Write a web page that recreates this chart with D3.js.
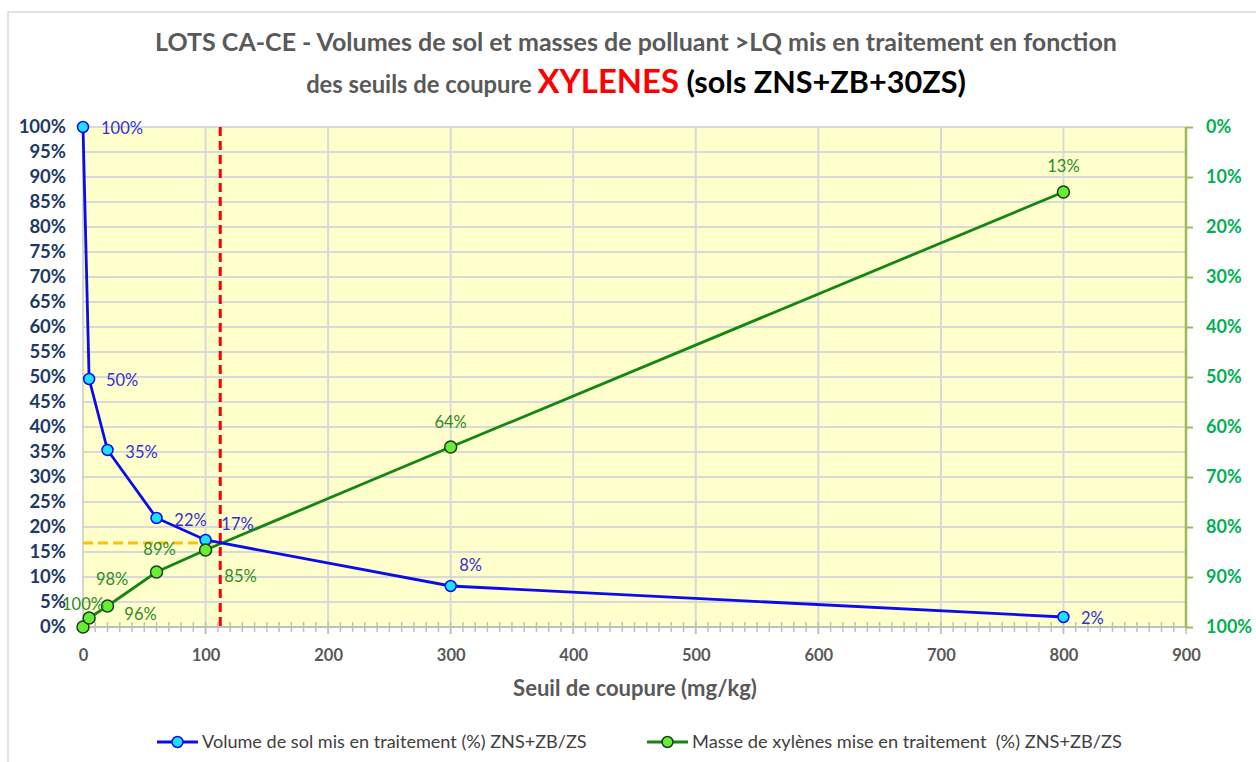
<!DOCTYPE html>
<html>
<head>
<meta charset="utf-8">
<script src="https://cdn.jsdelivr.net/npm/d3@7"></script>
<style>
  body { margin: 0; background: #fff; }
  svg { display: block; font-family: Lato, "Open Sans", sans-serif; }
</style>
</head>
<body>
<div id="chart"></div>
<script>
// seuils de coupure (mg/kg)
const seuils = [0, 5, 20, 60, 100, 300, 800];
// volume de sol mis en traitement (%), axe gauche
const volume = [100, 49.6, 35.4, 21.8, 17.4, 8.2, 2.0];
// masse de xylenes mise en traitement (%), axe droit (inverse)
const masse = [100, 98.2, 95.8, 89.0, 84.6, 64.0, 13.0];
const xTicks = [0, 100, 200, 300, 400, 500, 600, 700, 800, 900];
const leftTicks = d3.range(0, 101, 5);
const rightTicks = d3.range(0, 101, 10);
// seuil retenu
const seuilRetenu = 112;
const volumeRetenu = 16.8;

// label placements (dx, dy from the point), like the excel drag positions
const volOffsets = [[39, 1], [33, 1], [34, 2], [34, 2], [32, -16], [20, -21], [29, 1]];
const masOffsets = [[0, -23], [23, -39], [33, 8], [3, -23], [35, 26], [0, -25], [0, -26]];

const width = 1256, height = 762;
const pLeft = 83, pRight = 1186, pTop = 127, pBottom = 627;

const svg = d3.select("#chart").append("svg")
  .attr("width", width)
  .attr("height", height);

// outer frame
svg.append("rect")
  .attr("x", 8).attr("y", 12)
  .attr("width", 1270).attr("height", 770)
  .attr("fill", "#fff")
  .attr("stroke", "#d9d9d9")
  .attr("stroke-width", 1.5);

const x = d3.scaleLinear().domain([0, 900]).range([pLeft, pRight]);
const yL = d3.scaleLinear().domain([0, 100]).range([pBottom, pTop]);
const yR = d3.scaleLinear().domain([0, 100]).range([pTop, pBottom]);

// fit a text to a target width by scaling its font size
function fit(sel, target) {
  const node = sel.node();
  const fs = parseFloat(sel.attr("font-size"));
  const w = node.getComputedTextLength();
  const k = target / w;
  sel.attr("font-size", fs * k);
  sel.selectAll("tspan").each(function() {
    const t = d3.select(this);
    if (t.attr("font-size")) t.attr("font-size", parseFloat(t.attr("font-size")) * k);
  });
}

// plot area
svg.append("rect")
  .attr("x", pLeft).attr("y", pTop)
  .attr("width", pRight - pLeft).attr("height", pBottom - pTop)
  .attr("fill", "#ffffcc");

// horizontal grid
svg.append("g")
  .selectAll("line")
  .data(leftTicks.filter(d => d > 0))
  .join("line")
  .attr("x1", pLeft).attr("x2", pRight)
  .attr("y1", d => yL(d)).attr("y2", d => yL(d))
  .attr("stroke", "#d9d9d9")
  .attr("stroke-width", 2);

// vertical grid + major ticks
svg.append("g")
  .selectAll("line")
  .data(xTicks.filter(d => d > 0 && d < 900))
  .join("line")
  .attr("x1", d => x(d)).attr("x2", d => x(d))
  .attr("y1", pTop).attr("y2", pBottom + 7)
  .attr("stroke", "#d9d9d9")
  .attr("stroke-width", 2);

// left edge
svg.append("line")
  .attr("x1", pLeft).attr("x2", pLeft)
  .attr("y1", pTop).attr("y2", pBottom)
  .attr("stroke", "#c8c8c8").attr("stroke-width", 1.5);

// x axis line + minor cross ticks
svg.append("line")
  .attr("x1", pLeft).attr("x2", pRight)
  .attr("y1", pBottom).attr("y2", pBottom)
  .attr("stroke", "#bfbfbf").attr("stroke-width", 2);

svg.append("g")
  .selectAll("line")
  .data(d3.range(0, 901, 10))
  .join("line")
  .attr("x1", d => x(d)).attr("x2", d => x(d))
  .attr("y1", pBottom - 5).attr("y2", d => d % 100 === 0 ? pBottom + 7 : pBottom + 5)
  .attr("stroke", "#bfbfbf")
  .attr("stroke-width", 1.5);

// x axis labels
const xAxis = d3.axisBottom(x).tickValues(xTicks).tickSize(0).tickPadding(22);
const gx = svg.append("g").attr("transform", `translate(0,${pBottom})`).call(xAxis);
gx.select(".domain").remove();
gx.selectAll("text")
  .attr("font-size", 16.5)
  .attr("font-weight", "bold")
  .attr("fill", "#595959")
  .attr("font-family", "Lato, sans-serif");

// left axis
const yAxisL = d3.axisLeft(yL).tickValues(leftTicks).tickFormat(d => d + "%").tickSize(0).tickPadding(17);
const gl = svg.append("g").attr("transform", `translate(${pLeft},0)`).call(yAxisL);
gl.select(".domain").remove();
gl.selectAll("text")
  .attr("font-size", 18.5)
  .attr("font-weight", "bold")
  .attr("fill", "#203864")
  .attr("font-family", "Lato, sans-serif");

// right axis
const yAxisR = d3.axisRight(yR).tickValues(rightTicks).tickFormat(d => d + "%").tickSize(7).tickPadding(13);
const gr = svg.append("g").attr("transform", `translate(${pRight},0)`).call(yAxisR);
gr.select(".domain").attr("stroke", "#9bbb59").attr("stroke-width", 2.5).attr("d", `M0,${pTop}V${pBottom}`);
gr.selectAll(".tick line").attr("stroke", "#9bbb59").attr("stroke-width", 2);
gr.selectAll("text")
  .attr("font-size", 18)
  .attr("font-weight", "bold")
  .attr("fill", "#00b050")
  .attr("font-family", "Lato, sans-serif");

// seuil retenu lines
svg.append("line")
  .attr("x1", x(0)).attr("x2", x(seuilRetenu))
  .attr("y1", yL(volumeRetenu)).attr("y2", yL(volumeRetenu))
  .attr("stroke", "#ffc000").attr("stroke-width", 3)
  .attr("stroke-dasharray", "10,5");

svg.append("line")
  .attr("x1", x(seuilRetenu)).attr("x2", x(seuilRetenu))
  .attr("y1", pTop).attr("y2", pBottom)
  .attr("stroke", "#ff0000").attr("stroke-width", 3)
  .attr("stroke-dasharray", "9,5");

// series
const volData = seuils.map((s, i) => ({ x: s, y: volume[i], off: volOffsets[i] }));
const masData = seuils.map((s, i) => ({ x: s, y: masse[i], off: masOffsets[i] }));

svg.append("path")
  .datum(masData)
  .attr("fill", "none")
  .attr("stroke", "#138613")
  .attr("stroke-width", 2.8)
  .attr("d", d3.line().x(d => x(d.x)).y(d => yR(d.y)));

svg.append("path")
  .datum(volData)
  .attr("fill", "none")
  .attr("stroke", "#0b0bf0")
  .attr("stroke-width", 2.8)
  .attr("d", d3.line().x(d => x(d.x)).y(d => yL(d.y)));

svg.append("g")
  .selectAll("circle")
  .data(volData)
  .join("circle")
  .attr("cx", d => x(d.x)).attr("cy", d => yL(d.y))
  .attr("r", 5.5)
  .attr("fill", "#1ee0ff")
  .attr("stroke", "#0b0bf0")
  .attr("stroke-width", 1.5);

svg.append("g")
  .selectAll("circle")
  .data(masData)
  .join("circle")
  .attr("cx", d => x(d.x)).attr("cy", d => yR(d.y))
  .attr("r", 6)
  .attr("fill", "#66ee33")
  .attr("stroke", "#1e3a1e")
  .attr("stroke-width", 1.5);

// data labels
svg.append("g")
  .selectAll("text")
  .data(masData)
  .join("text")
  .attr("x", d => x(d.x) + d.off[0])
  .attr("y", d => yR(d.y) + d.off[1])
  .attr("dy", "0.35em")
  .attr("text-anchor", "middle")
  .attr("font-size", 16.5)
  .attr("fill", "#2e8b22")
  .text(d => Math.round(d.y) + "%");

svg.append("g")
  .selectAll("text")
  .data(volData)
  .join("text")
  .attr("x", d => x(d.x) + d.off[0])
  .attr("y", d => yL(d.y) + d.off[1])
  .attr("dy", "0.35em")
  .attr("text-anchor", "middle")
  .attr("font-size", 16.5)
  .attr("fill", "#3030d8")
  .text(d => Math.round(d.y) + "%");

// titles
const t1 = svg.append("text")
  .attr("x", 636).attr("y", 51)
  .attr("text-anchor", "middle")
  .attr("font-size", 21)
  .attr("font-weight", "bold")
  .attr("fill", "#595959")
  .text("LOTS CA-CE - Volumes de sol et masses de polluant >LQ mis en traitement en fonction");
fit(t1, 962);

const t2 = svg.append("text")
  .attr("x", 636).attr("y", 93)
  .attr("text-anchor", "middle")
  .attr("font-size", 21)
  .attr("font-weight", "bold")
  .attr("fill", "#595959");
t2.append("tspan").text("des seuils de coupure ");
t2.append("tspan").attr("fill", "#ff0000").attr("font-size", 29).text("XYLENES");
t2.append("tspan").attr("fill", "#000").attr("font-size", 27).text(" (sols ZNS+ZB+30ZS)");
fit(t2, 660);

const xt = svg.append("text")
  .attr("x", 635).attr("y", 696)
  .attr("text-anchor", "middle")
  .attr("font-size", 19)
  .attr("font-weight", "bold")
  .attr("fill", "#595959")
  .text("Seuil de coupure (mg/kg)");
fit(xt, 244);

// legend
const legend = [
  { label: "Volume de sol mis en traitement (%) ZNS+ZB/ZS", stroke: "#0b0bf0", fill: "#1ee0ff", mstroke: "#0b0bf0", x0: 157, w: 385 },
  { label: "Masse de xylènes mise en traitement  (%) ZNS+ZB/ZS", stroke: "#138613", fill: "#66ee33", mstroke: "#1e3a1e", x0: 647, w: 430 }
];
const lg = svg.append("g").selectAll("g").data(legend).join("g")
  .attr("transform", d => `translate(${d.x0},742)`);
lg.append("line")
  .attr("x1", 0).attr("x2", 41)
  .attr("stroke", d => d.stroke).attr("stroke-width", 2.8);
lg.append("circle")
  .attr("cx", 20.5).attr("r", 5.5)
  .attr("fill", d => d.fill)
  .attr("stroke", d => d.mstroke)
  .attr("stroke-width", 1.5);
lg.append("text")
  .attr("x", 45).attr("y", 5.5)
  .attr("font-size", 15)
  .attr("fill", "#404040")
  .style("white-space", "pre")
  .text(d => d.label)
  .each(function(d) { fit(d3.select(this), d.w); });
</script>
</body>
</html>
